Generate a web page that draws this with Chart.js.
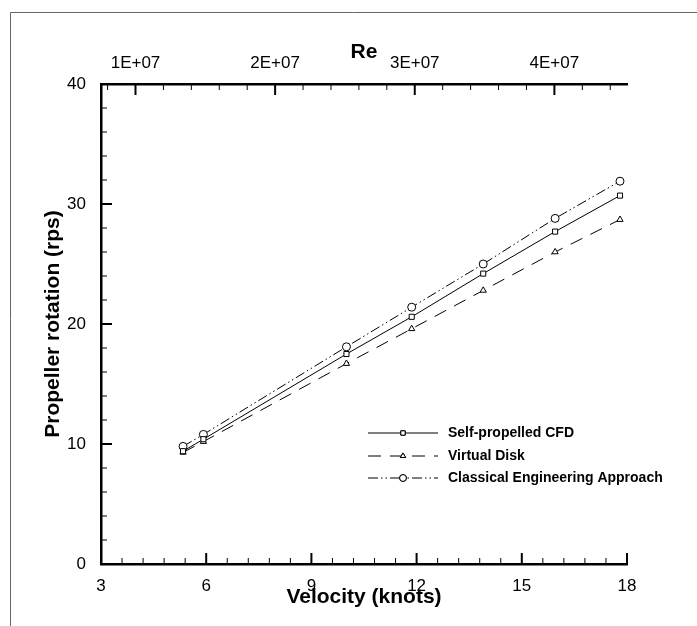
<!DOCTYPE html>
<html>
<head>
<meta charset="utf-8">
<script src="https://cdn.jsdelivr.net/npm/chart.js@4.4.1/dist/chart.umd.min.js"></script>
<style>
  body { margin: 0; background: #fff; }
  #wrap { width: 697px; height: 626px; position: relative; }
</style>
</head>
<body>
<div id="wrap"><canvas id="chart" width="697" height="626"></canvas></div>
<script>
// -------------------------
// Datos
// -------------------------
const velocity = [5.34, 5.92, 10.0, 11.86, 13.9, 15.95, 17.8];
const selfPropelledCFD = [9.4, 10.4, 17.5, 20.6, 24.2, 27.7, 30.7];
const virtualDisk = [9.3, 10.2, 16.7, 19.6, 22.8, 26.0, 28.7];
const classicalApproach = [9.8, 10.8, 18.1, 21.4, 25.0, 28.8, 31.9];

const velocityTicks = [3, 6, 9, 12, 15, 18];
const rpsTicks = [0, 10, 20, 30, 40];
const reTicks = [1e7, 2e7, 3e7, 4e7];
const reRange = [7.53e6, 4.52e7];

const seriesNames = ["Self-propelled CFD", "Virtual Disk", "Classical Engineering Approach"];
// -------------------------

const FONT = "'Liberation Sans', Arial, Helvetica, sans-serif";
const styles = [
  { dash: [], point: "rect", radius: 3.6 },
  { dash: [13, 9], point: "triangle", radius: 3.6 },
  { dash: [10, 3, 1.5, 3, 1.5, 3], point: "circle", radius: 4 },
];

function toPoints(ys) {
  return velocity.map((v, i) => ({ x: v, y: ys[i] }));
}

const datasets = [selfPropelledCFD, virtualDisk, classicalApproach].map((ys, i) => ({
  label: seriesNames[i],
  data: toPoints(ys),
  borderColor: "#000",
  backgroundColor: "#fff",
  borderWidth: 1,
  borderDash: styles[i].dash,
  pointStyle: styles[i].point,
  pointRadius: styles[i].radius,
  pointBorderColor: "#000",
  pointBackgroundColor: "#fff",
  pointBorderWidth: 1,
  showLine: true,
  fill: false,
  tension: 0,
  xAxisID: "x",
  yAxisID: "y",
}));

function reLabel(v) {
  const e = Math.floor(Math.log10(v));
  const m = Math.round(v / Math.pow(10, e));
  return m + "E+" + String(e).padStart(2, "0");
}

// ticks hacia adentro, marco y leyenda
const decor = {
  id: "decor",
  beforeDraw(chart) {
    const ctx = chart.ctx;
    ctx.save();
    ctx.strokeStyle = "#666";
    ctx.lineWidth = 1;
    ctx.beginPath();
    ctx.moveTo(10.5, 626);
    ctx.lineTo(10.5, 12.5);
    ctx.lineTo(697, 12.5);
    ctx.stroke();
    ctx.restore();
  },
  afterDraw(chart) {
    const { ctx, chartArea: a, scales } = chart;
    ctx.save();
    ctx.strokeStyle = "#000";
    const line = (x1, y1, x2, y2, w) => {
      ctx.lineWidth = w;
      ctx.beginPath();
      ctx.moveTo(x1, y1);
      ctx.lineTo(x2, y2);
      ctx.stroke();
    };
    // eje x inferior
    const xs = scales.x;
    for (let v = velocityTicks[0]; v <= velocityTicks[velocityTicks.length - 1] + 1e-9; v += 0.6) {
      const px = xs.getPixelForValue(v);
      const major = velocityTicks.some(t => Math.abs(t - v) < 1e-6);
      line(px, a.bottom, px, a.bottom - (major ? 11 : 6), major ? 2 : 1);
    }
    // eje y
    const ys = scales.y;
    for (let v = rpsTicks[0]; v <= rpsTicks[rpsTicks.length - 1]; v += 2) {
      const py = ys.getPixelForValue(v);
      const major = rpsTicks.includes(v);
      line(a.left, py, a.left + (major ? 11 : 6), py, major ? 2 : 1);
    }
    // eje Re superior
    const rs = scales.x2;
    for (let v = 8e6; v <= reRange[1]; v += 2e6) {
      const px = rs.getPixelForValue(v);
      const major = reTicks.some(t => Math.abs(t - v) < 1);
      line(px, a.top, px, a.top + (major ? 11 : 6), major ? 2 : 1);
    }

    // leyenda
    const rows = [433, 456, 478];
    chart.data.datasets.forEach((ds, i) => {
      const y = rows[i];
      ctx.strokeStyle = "#000";
      ctx.lineWidth = 1;
      ctx.setLineDash(ds.borderDash);
      ctx.beginPath();
      ctx.moveTo(368, y);
      ctx.lineTo(438, y);
      ctx.stroke();
      ctx.setLineDash([]);
      Chart.helpers.drawPoint(ctx, {
        pointStyle: ds.pointStyle,
        radius: ds.pointRadius * 0.85,
        borderWidth: 1,
        rotation: 0,
      }, 403, y);
      ctx.fillStyle = "#fff";
      ctx.fill();
      ctx.stroke();
      ctx.fillStyle = "#000";
      ctx.font = "bold 14px " + FONT;
      ctx.textBaseline = "middle";
      ctx.textAlign = "left";
      ctx.fillText(ds.label, 448, y);
    });
    ctx.restore();
  },
};

const ctx = document.getElementById("chart").getContext("2d");
const chart = new Chart(ctx, {
  type: "line",
  data: { datasets: datasets },
  options: {
    responsive: false,
    animation: false,
    layout: { padding: { left: 0, right: 70, top: 0, bottom: 0 } },
    plugins: { legend: { display: false }, tooltip: { enabled: false } },
    scales: {
      x: {
        type: "linear",
        position: "bottom",
        min: velocityTicks[0],
        max: velocityTicks[velocityTicks.length - 1],
        afterBuildTicks: s => { s.ticks = velocityTicks.map(v => ({ value: v })); },
        afterFit: s => { s.height = 62; },
        grid: { display: false },
        border: { display: true, color: "#000", width: 2.5 },
        ticks: { color: "#000", padding: 4, font: { family: FONT, size: 17 }, maxRotation: 0 },
        title: {
          display: true, text: "Velocity (knots)", color: "#000",
          font: { family: FONT, size: 21, weight: "bold" }, padding: { top: 0, bottom: 16 },
        },
      },
      x2: {
        type: "linear",
        position: "top",
        min: reRange[0],
        max: reRange[1],
        afterBuildTicks: s => { s.ticks = reTicks.map(v => ({ value: v })); },
        afterFit: s => { s.height = 84; },
        grid: { display: false },
        border: { display: true, color: "#000", width: 2.5 },
        ticks: { color: "#000", padding: 2, font: { family: FONT, size: 17 }, maxRotation: 0, callback: v => reLabel(v) },
        title: {
          display: true, text: "Re", color: "#000",
          font: { family: FONT, size: 21, weight: "bold" }, padding: { top: 40, bottom: 0 },
        },
      },
      y: {
        type: "linear",
        position: "left",
        min: rpsTicks[0],
        max: rpsTicks[rpsTicks.length - 1],
        afterBuildTicks: s => { s.ticks = rpsTicks.map(v => ({ value: v })); },
        afterFit: s => { s.width = 101; },
        grid: { display: false },
        border: { display: true, color: "#000", width: 2.5 },
        ticks: { color: "#000", padding: 7, font: { family: FONT, size: 17 } },
        title: {
          display: true, text: "Propeller rotation (rps)", color: "#000",
          font: { family: FONT, size: 21, weight: "bold" }, padding: { top: 41, bottom: 0 },
        },
      },
    },
  },
  plugins: [decor],
});
</script>
</body>
</html>
